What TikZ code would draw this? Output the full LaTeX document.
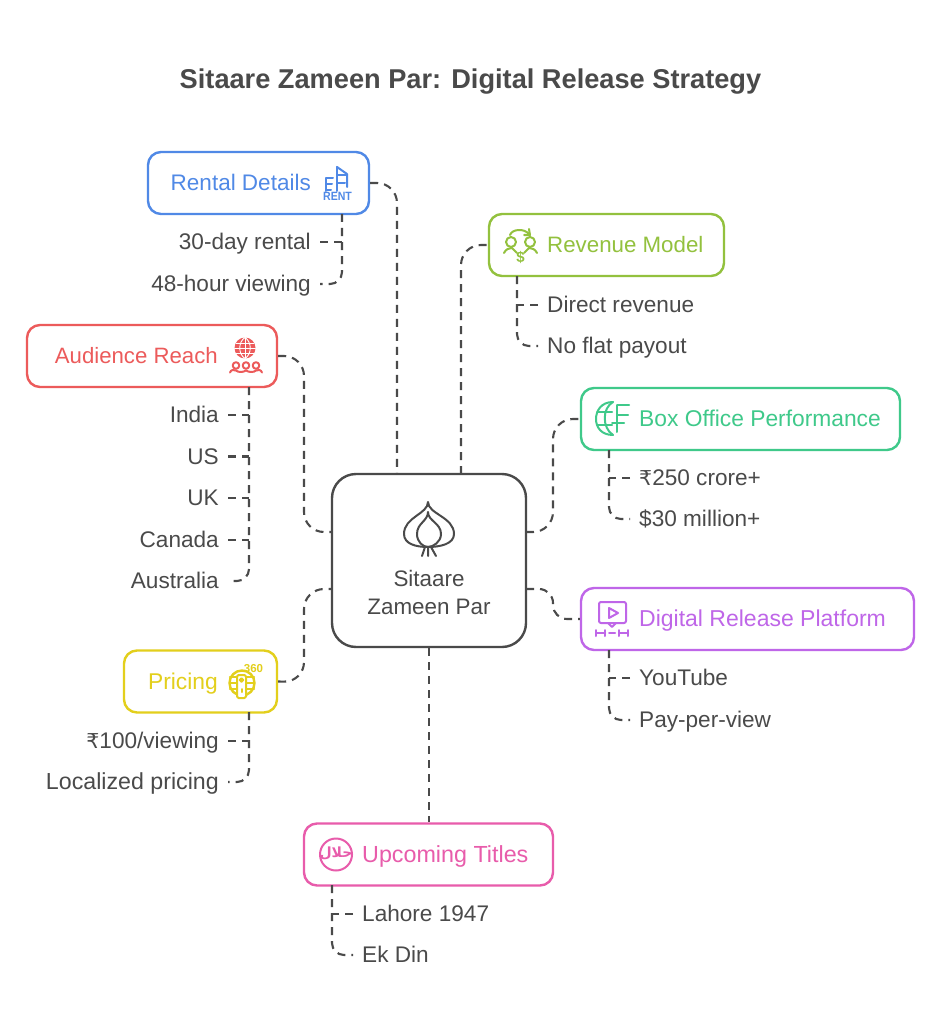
\documentclass[tikz,border=0pt]{standalone}
\usepackage{fontspec}
\setmainfont{Liberation Sans}
\newfontfamily\arabicfont[Script=Arabic]{DejaVu Sans}
\newfontfamily\rupeefont{DejaVu Sans}
\newcommand{\rupee}{{\rupeefont\fontsize{20.5}{26}\selectfont ₹}}
\TeXXeTstate=1
\definecolor{cgray}{HTML}{4A4A4A}
\definecolor{cblue}{HTML}{5089E6}
\definecolor{cgreen}{HTML}{93C13E}
\definecolor{cred}{HTML}{EC5B5B}
\definecolor{cteal}{HTML}{3FC98A}
\definecolor{cpurple}{HTML}{BF66E8}
\definecolor{cyellow}{HTML}{E3CF1C}
\definecolor{cpink}{HTML}{E85CAB}
\tikzset{
  x=1pt,y=-1pt,
  boxn/.style={draw=#1,line width=2.4pt,rounded corners=13pt,fill=white,inner sep=0pt},
  lab/.style={inner sep=0pt,text=#1,font=\fontsize{22.8}{26}\selectfont,text height=20pt,text depth=5pt},
  item/.style={text=cgray,font=\fontsize{22.6}{26}\selectfont,text height=20pt,text depth=5pt,inner ysep=0pt,inner xsep=9pt},
  conn/.style={draw=cgray,line width=2.1pt,dash pattern=on 8pt off 6pt,rounded corners=#1},
  conn/.default=20pt,
  icn/.style={draw=#1,line width=2pt,line cap=round,line join=round,fill=none},
}
\begin{document}
\begin{tikzpicture}
\useasboundingbox[fill=white] (0,0) rectangle (941,1024);
\node[text=cgray,font=\bfseries\fontsize{27.2}{32}\selectfont] (title) at (470.5,81.5) {Sitaare Zameen Par: Digital Release Strategy};

% boxes
\node[boxn=cgray,rounded corners=24pt,minimum width=194pt,minimum height=173pt] (center) at (429,560.5) {};
\node[boxn=cblue,minimum width=221pt,minimum height=62pt] (rental) at (258.5,183) {};
\node[boxn=cgreen,minimum width=235pt,minimum height=62pt] (revenue) at (606.5,245) {};
\node[boxn=cred,minimum width=250pt,minimum height=62pt] (audience) at (152,356) {};
\node[boxn=cteal,minimum width=319pt,minimum height=62pt] (boxoffice) at (740.5,419) {};
\node[boxn=cpurple,minimum width=333pt,minimum height=62pt] (digital) at (747.5,619) {};
\node[boxn=cyellow,minimum width=153pt,minimum height=62pt] (pricing) at (200.5,681.5) {};
\node[boxn=cpink,minimum width=249pt,minimum height=62pt] (upcoming) at (428.5,854.5) {};

% box labels
\node[lab=cblue,anchor=east,font=\fontsize{22.5}{26}\selectfont] (l1) at (311,183) {Rental Details};
\node[lab=cgreen,anchor=west,font=\fontsize{22.3}{26}\selectfont] (l2) at (547,245) {Revenue Model};
\node[lab=cred,anchor=east,font=\fontsize{22.2}{26}\selectfont] (l3) at (218,356) {Audience Reach};
\node[lab=cteal,anchor=west] (l4) at (639,419) {Box Office Performance};
\node[lab=cpurple,anchor=west,font=\fontsize{23}{26}\selectfont] (l5) at (639,619) {Digital Release Platform};
\node[lab=cyellow,anchor=east] (l6) at (218,681.5) {Pricing};
\node[lab=cpink,anchor=west,font=\fontsize{23.3}{26}\selectfont] (l7) at (362,854.5) {Upcoming Titles};

% center text
\node[text=cgray,align=center,inner sep=0pt,font=\fontsize{22.4}{28}\selectfont] (ctext) at (429,592) {Sitaare\\Zameen Par};

% items
\node[item,anchor=east] (r1) at (320,242) {30-day rental};
\node[item,anchor=east] (r2) at (320,284) {48-hour viewing};
\node[item,anchor=west] (v1) at (538,305) {Direct revenue};
\node[item,anchor=west] (v2) at (538,346) {No flat payout};
\node[item,anchor=east] (a1) at (228,415) {India};
\node[item,anchor=east] (a2) at (228,456.5) {US};
\node[item,anchor=east] (a3) at (228,498) {UK};
\node[item,anchor=east] (a4) at (228,540) {Canada};
\node[item,anchor=east] (a5) at (228,581) {Australia};
\node[item,anchor=west] (b1) at (630,478) {\rupee250 crore+};
\node[item,anchor=west] (b2) at (630,519) {\$30 million+};
\node[item,anchor=west] (d1) at (630,678) {YouTube};
\node[item,anchor=west] (d2) at (630,720) {Pay-per-view};
\node[item,anchor=east] (p1) at (228,741) {\rupee100/viewing};
\node[item,anchor=east,font=\fontsize{23.2}{26}\selectfont] (p2) at (228,782) {Localized pricing};
\node[item,anchor=west] (u1) at (353,914) {Lahore 1947};
\node[item,anchor=west] (u2) at (353,955) {Ek Din};

% connector end coordinates
\coordinate (cT1) at (397,474);
\coordinate (cT2) at (461,474);
\coordinate (cL1) at (332,532);
\coordinate (cL2) at (332,589);
\coordinate (cR1) at (526,532);
\coordinate (cR2) at (526,589);
\coordinate (rS) at (342,214);
\coordinate (vS) at (517,276);
\coordinate (aS) at (249,387);
\coordinate (bS) at (609,450);
\coordinate (dS) at (609,650);
\coordinate (pS) at (249,712);
\coordinate (uS) at (332,885);

% main connectors
\draw[conn] (rental.east) -| (cT1);
\draw[conn] (cT2) |- (revenue.west);
\draw[conn] (audience.east) -- (304,356) -- (304,532) -- (cL1);
\draw[conn] (cR1) -- (553,532) -- (553,419) -- (boxoffice.west);
\draw[conn=14pt] (cR2) -- (553,589) -- (553,619) -- (digital.west);
\draw[conn] (pricing.east) -- (304,682) -- (304,589) -- (cL2);
\draw[conn] (center.south) -- (center.south |- upcoming.north);

% sub connectors
\draw[conn=12pt] (rS) |- (r2.east);
\draw[conn] (r1.east) -- (rS |- r1.east);
\draw[conn=12pt] (vS) |- (v2.west);
\draw[conn] (v1.west) -- (vS |- v1.west);
\draw[conn=12pt] (aS) |- (a5.east);
\foreach \n in {a1,a2,a3,a4} \draw[conn] (\n.east) -- (aS |- \n.east);
\draw[conn=12pt] (bS) |- (b2.west);
\draw[conn] (b1.west) -- (bS |- b1.west);
\draw[conn=12pt] (dS) |- (d2.west);
\draw[conn] (d1.west) -- (dS |- d1.west);
\draw[conn=12pt] (pS) |- (p2.east);
\draw[conn] (p1.east) -- (pS |- p1.east);
\draw[conn=12pt] (uS) |- (u2.west);
\draw[conn] (u1.west) -- (uS |- u1.west);

% onion icon
\begin{scope}[icn=cgray]
\draw (428,502) .. controls (428,514) and (404,517) .. (404,534) .. controls (404,544) and (416,547) .. (428,547) .. controls (440,547) and (454,544) .. (454,534) .. controls (454,517) and (428,514) .. (428,502);
\draw (428,512) .. controls (428,521) and (417,523) .. (417,534) .. controls (417,542) and (423,547) .. (428,547) .. controls (433,547) and (441,542) .. (441,534) .. controls (441,523) and (428,521) .. (428,512);
\draw (425,547) -- (422,556) (428,547) -- (428,556) (431,547) -- (436,556);
\end{scope}

% rent icon
\begin{scope}[icn=cblue]
\draw (337,191) -- (337,175) -- (347,175) (337,167) -- (337,175) (337,183) -- (345,183);
\draw (337,167) -- (347,174) -- (347,187);
\draw (326,191) -- (326,178) -- (333,178) (326,184) -- (332,184) (326,190) -- (331,190);
\end{scope}
\node[text=cblue,inner sep=0pt,font=\bfseries\fontsize{12}{12}\selectfont,xscale=.88] (renti) at (337.5,196.5) {RENT};

% revenue icon
\begin{scope}[icn=cgreen]
\draw (511,242) circle (5);
\draw (530,242) circle (5);
\draw (504,253) .. controls (506,249) and (509,248) .. (512,248) (537,253) .. controls (535,249) and (532,248) .. (529,248);
\draw (512,248) -- (517,253) (529,248) -- (524,253);
\draw (510,235) .. controls (512,229) and (524,228) .. (529,234);
\draw (529,229) -- (530,235) -- (524,235);
\end{scope}
\node[text=cgreen,inner sep=0pt,font=\bfseries\fontsize{15}{16}\selectfont] (revi) at (520.5,257) {\$};

% audience icon
\begin{scope}[icn=cred]
\fill[cred] (245,348) circle (10.5);
\draw[white,line width=.9pt] (245,337.5) -- (245,358.5) (234.5,348) -- (255.5,348) (236,343) -- (254,343) (236,353) -- (254,353);
\draw[white,line width=.9pt] (245,337.5) .. controls (238,342) and (238,354) .. (245,358.5) .. controls (252,354) and (252,342) .. (245,337.5);
\foreach \x in {236,246,256} {\draw (\x,365.5) circle (3.3);}
\draw (230,372.5) .. controls (231,369.5) and (234,369.5) .. (236,370.5) .. controls (238,372.5) and (243,372.5) .. (246,370.5) .. controls (249,372.5) and (254,372.5) .. (256,370.5) .. controls (258,369.5) and (261,369.5) .. (262,372.5);
\end{scope}

% box office icon
\begin{scope}[icn=cteal]
\draw (613,402) .. controls (601,402) and (596,411) .. (596,419) .. controls (596,427) and (601,435) .. (613,435);
\draw (613,402) .. controls (602,408) and (602,428) .. (613,435);
\draw (597,412) -- (612,412) (597,425) -- (612,425);
\draw (617,405) -- (617,432) (617,405) -- (629,405) (617,415) -- (628,415) (612,423) -- (624,423);
\end{scope}

% digital icon
\begin{scope}[icn=cpurple]
\draw[rounded corners=2pt] (599,602) rectangle (626,623);
\draw (608,623) -- (612,627) -- (616,623);
\draw (609,608) -- (618,613) -- (609,618) -- cycle;
\draw (596,630) -- (596,636) (605,630) -- (605,636) (619,630) -- (619,636) (628,630) -- (628,636);
\draw (596,633) -- (605,633) (609,633) -- (615,633) (619,633) -- (628,633);
\end{scope}

% pricing icon
\begin{scope}[icn=cyellow,line width=2.4pt]
\draw (242,683) circle (12.5);
\draw (230,683) -- (254,683);
\draw (230,677) -- (254,677) (230,689) -- (254,689);
\fill[white] (236,674) rectangle (247,698);
\draw[rounded corners=1.5pt,line width=2pt] (237,675) rectangle (246,698);
\draw[line width=2pt] (241.5,680) circle (1.8);
\draw[line width=2pt] (241.5,689) -- (241.5,692);
\end{scope}
\node[text=cyellow,inner sep=0pt,font=\bfseries\fontsize{11.5}{12}\selectfont] (pri) at (253.5,668.5) {360};

% halal icon
\draw[icn=cpink] (336,854.5) circle (16);
\node[text=cpink,inner sep=0pt,font=\arabicfont\bfseries\fontsize{14}{15}\selectfont] (hal) at (336,853) {\beginR حلال\endR};
\end{tikzpicture}
\end{document}
